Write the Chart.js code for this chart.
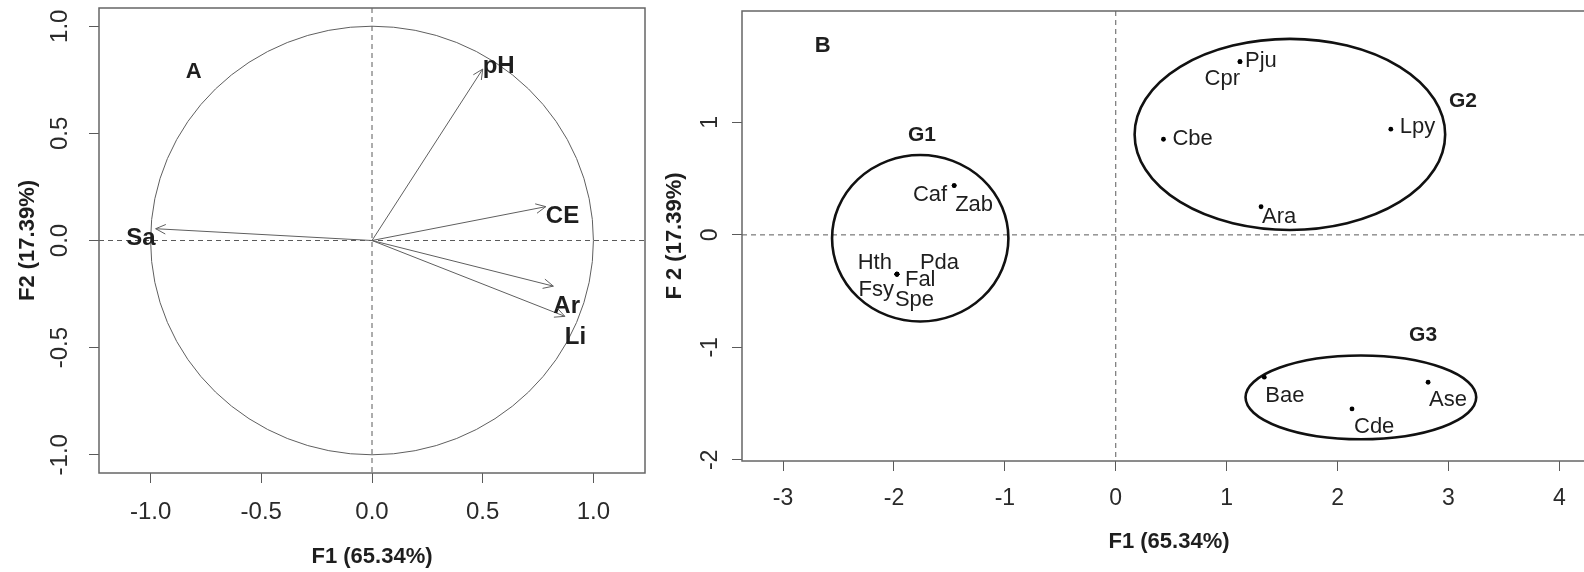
<!DOCTYPE html>
<html>
<head>
<meta charset="utf-8">
<script src="https://cdn.jsdelivr.net/npm/chart.js@4.4.1/dist/chart.umd.min.js"></script>
<style>
  html, body { margin:0; padding:0; background:#fff; overflow:hidden; }
  body { width:1584px; height:572px; position:relative; }
  .panel { position:absolute; top:0; height:572px; }
  #wrapA { left:0; width:660px; }
  #wrapB { left:660px; width:960px; }
</style>
</head>
<body>
<div class="panel" id="wrapA"><canvas id="chartA" width="660" height="572"></canvas></div>
<div class="panel" id="wrapB"><canvas id="chartB" width="960" height="572"></canvas></div>
<script>
// ---- data: panel A (correlation circle) ----
const varNames = ['pH', 'CE', 'Sa', 'Ar', 'Li'];
const varF1 = [0.50, 0.785, -0.977, 0.819, 0.871];
const varF2 = [0.80, 0.158, 0.055, -0.213, -0.354];
const ticksAx = [-1, -0.5, 0, 0.5, 1];
const ticksAy = [-1, -0.5, 0, 0.5, 1];

// ---- data: panel B (species scores) ----
const spNames = ['Pju','Cpr','Cbe','Lpy','Ara','Caf','Zab','Hth','Pda','Fal','Fsy','Spe','Bae','Cde','Ase'];
const spF1 = [1.12, 1.12, 0.43, 2.48, 1.31, -1.457, -1.457, -1.973, -1.973, -1.973, -1.973, -1.973, 1.339, 2.13, 2.816];
const spF2 = [1.54, 1.54, 0.85, 0.94, 0.25, 0.438, 0.438, -0.349, -0.349, -0.349, -0.349, -0.349, -1.265, -1.547, -1.31];
const groupNames = ['G1', 'G2', 'G3'];
const groupCx = [-1.763, 1.57, 2.21];
const groupCy = [-0.03, 0.893, -1.444];
const groupRx = [0.795, 1.40, 1.04];
const groupRy = [0.74, 0.849, 0.372];
const groupLabelX = [-1.748, 3.13, 2.771];
const groupLabelY = [0.889, 1.185, -0.889];
const ticksBx = [-3, -2, -1, 0, 1, 2, 3, 4];
const ticksBy = [-2, -1, 0, 1];

// ---- styles ----
const FONT = "'Liberation Sans', Arial, sans-serif";
const INK = '#1e1e1e';
const AXIS = '#5a5a5a';
const LINE = '#5f5f5f';
// label offsets in px from the point: [dx, dy(baseline), align]
const varLabelOff = [[0,3.5,'left'],[0,16.5,'left'],[0,16.5,'right'],[0,26.5,'left'],[0,27.5,'left']];
const spLabelOff = [[5,5,'left'],[0,23,'right'],[9,6,'left'],[9,4,'left'],[1,16,'left'],[-7,15.5,'right'],[1,25,'left'],
  [-5,-5,'right'],[23,-5,'left'],[8,12,'left'],[-3,22,'right'],[-2,32,'left'],[1,25,'left'],[2,24,'left'],[1,24,'left']];

function txt(ctx, s, px, py, align, baseline, font){
  ctx.font = font; ctx.textAlign = align; ctx.textBaseline = baseline; ctx.fillStyle = INK;
  ctx.fillText(s, px, py);
}

function axisX(min, max, ticks, fmt, height, pad, titlePad, size){
  return {
    type:'linear', position:'bottom', min, max,
    afterBuildTicks: s => { s.ticks = ticks.map(v => ({value:v})); },
    afterFit: s => { s.height = height; s.paddingLeft = 0; s.paddingRight = 0; },
    grid: { display:true, drawOnChartArea:false, drawTicks:true, tickLength:10, tickColor:AXIS, tickWidth:1 },
    border: { display:false },
    ticks: { color:'#2a2a2a', font:{ family:FONT, size }, padding:pad, autoSkip:false, maxRotation:0, callback: v => fmt(v) },
    title: { display:true, text:'F1 (65.34%)', color:INK, font:{ family:FONT, size:22, weight:'bold' }, padding:{ top:0, bottom:titlePad } }
  };
}
function axisY(min, max, ticks, fmt, width, pad, title, titlePad, size){
  return {
    type:'linear', position:'left', min, max,
    afterBuildTicks: s => { s.ticks = ticks.map(v => ({value:v})); },
    afterFit: s => { s.width = width; s.paddingTop = 0; s.paddingBottom = 0; },
    grid: { display:true, drawOnChartArea:false, drawTicks:true, tickLength:10, tickColor:AXIS, tickWidth:1 },
    border: { display:false },
    ticks: { color:'#2a2a2a', font:{ family:FONT, size }, padding:pad, autoSkip:false, minRotation:90, maxRotation:90, crossAlign:'center', callback: v => fmt(v) },
    title: { display:true, text:title, color:INK, font:{ family:FONT, size:22, weight:'bold' }, padding:{ top:titlePad, bottom:0 } }
  };
}

function originLines(chart){
  const {ctx, chartArea:a, scales:{x, y}} = chart;
  ctx.save();
  ctx.strokeStyle = AXIS; ctx.lineWidth = 1; ctx.setLineDash([5,4]);
  ctx.beginPath();
  ctx.moveTo(x.getPixelForValue(0), a.top); ctx.lineTo(x.getPixelForValue(0), a.bottom);
  ctx.moveTo(a.left, y.getPixelForValue(0)); ctx.lineTo(a.right, y.getPixelForValue(0));
  ctx.stroke();
  ctx.restore();
}
function frame(chart){
  const {ctx, chartArea:a} = chart;
  ctx.save(); ctx.strokeStyle = '#666'; ctx.lineWidth = 1.5;
  ctx.strokeRect(a.left, a.top, a.right - a.left, a.bottom - a.top);
  ctx.restore();
}

const panelA = {
  id:'panelA',
  beforeDatasetsDraw(chart){
    const {ctx, scales:{x, y}} = chart;
    originLines(chart);
    ctx.save();
    ctx.strokeStyle = LINE; ctx.lineWidth = 1;
    ctx.beginPath();
    ctx.ellipse(x.getPixelForValue(0), y.getPixelForValue(0),
      x.getPixelForValue(1) - x.getPixelForValue(0), y.getPixelForValue(0) - y.getPixelForValue(1), 0, 0, Math.PI*2);
    ctx.stroke();
    ctx.restore();
  },
  afterDatasetsDraw(chart){
    const {ctx, scales:{x, y}} = chart;
    frame(chart);
    ctx.save();
    ctx.strokeStyle = LINE; ctx.lineWidth = 1;
    varNames.forEach((n, i) => {
      const x0 = x.getPixelForValue(0), y0 = y.getPixelForValue(0);
      const px = x.getPixelForValue(varF1[i]), py = y.getPixelForValue(varF2[i]);
      const ang = Math.atan2(py - y0, px - x0), L = 11, w = 0.45;
      ctx.beginPath();
      ctx.moveTo(px - L*Math.cos(ang - w), py - L*Math.sin(ang - w));
      ctx.lineTo(px, py);
      ctx.lineTo(px - L*Math.cos(ang + w), py - L*Math.sin(ang + w));
      ctx.stroke();
      const o = varLabelOff[i];
      txt(ctx, n, px + o[0], py + o[1], o[2], 'alphabetic', `bold 24px ${FONT}`);
    });
    txt(ctx, 'A', x.getPixelForValue(-0.805), y.getPixelForValue(0.785), 'center', 'middle', `bold 22px ${FONT}`);
    ctx.restore();
  }
};

const panelB = {
  id:'panelB',
  beforeDatasetsDraw(chart){
    const {ctx, scales:{x, y}} = chart;
    originLines(chart);
    ctx.save();
    ctx.strokeStyle = '#111'; ctx.lineWidth = 2.6;
    groupNames.forEach((g, i) => {
      ctx.beginPath();
      ctx.ellipse(x.getPixelForValue(groupCx[i]), y.getPixelForValue(groupCy[i]),
        x.getPixelForValue(groupRx[i]) - x.getPixelForValue(0), y.getPixelForValue(0) - y.getPixelForValue(groupRy[i]), 0, 0, Math.PI*2);
      ctx.stroke();
      txt(ctx, g, x.getPixelForValue(groupLabelX[i]), y.getPixelForValue(groupLabelY[i]), 'center', 'middle', `bold 21px ${FONT}`);
    });
    ctx.restore();
  },
  afterDatasetsDraw(chart){
    const {ctx, scales:{x, y}} = chart;
    frame(chart);
    ctx.save();
    spNames.forEach((n, i) => {
      const o = spLabelOff[i];
      txt(ctx, n, x.getPixelForValue(spF1[i]) + o[0], y.getPixelForValue(spF2[i]) + o[1], o[2], 'alphabetic', `22px ${FONT}`);
    });
    txt(ctx, 'B', x.getPixelForValue(-2.643), y.getPixelForValue(1.683), 'center', 'middle', `bold 22px ${FONT}`);
    ctx.restore();
  }
};

const common = {
  responsive:false, animation:false, devicePixelRatio:1,
  plugins:{ legend:{ display:false }, tooltip:{ enabled:false } }
};

new Chart(document.getElementById('chartA'), {
  type:'scatter',
  data:{
    datasets: varNames.map((n, i) => ({
      label:n, data:[{x:0, y:0}, {x:varF1[i], y:varF2[i]}],
      showLine:true, borderColor:LINE, borderWidth:1, pointRadius:0
    }))
  },
  options:{
    ...common,
    layout:{ padding:{ left:0, top:8, right:15, bottom:0 } },
    scales:{
      x: axisX(-1.233, 1.233, ticksAx, v => v.toFixed(1), 99, 15, 2, 24),
      y: axisY(-1.085, 1.085, ticksAy, v => v.toFixed(1), 99, 8, 'F2 (17.39%)', 15, 24)
    }
  },
  plugins:[panelA]
});

new Chart(document.getElementById('chartB'), {
  type:'scatter',
  data:{
    datasets:[{
      label:'species', data: spNames.map((n, i) => ({x:spF1[i], y:spF2[i]})),
      pointRadius:2.4, pointBackgroundColor:'#000', pointBorderWidth:0
    }]
  },
  options:{
    ...common,
    layout:{ padding:{ left:0, top:11, right:24, bottom:0 } },
    scales:{
      x: axisX(-3.37, 4.33, ticksBx, v => String(v), 111, 14, 17, 23),
      y: axisY(-2.01, 1.99, ticksBy, v => String(v), 82, 11, 'F 2 (17.39%)', 2, 23)
    }
  },
  plugins:[panelB]
});
</script>
</body>
</html>
